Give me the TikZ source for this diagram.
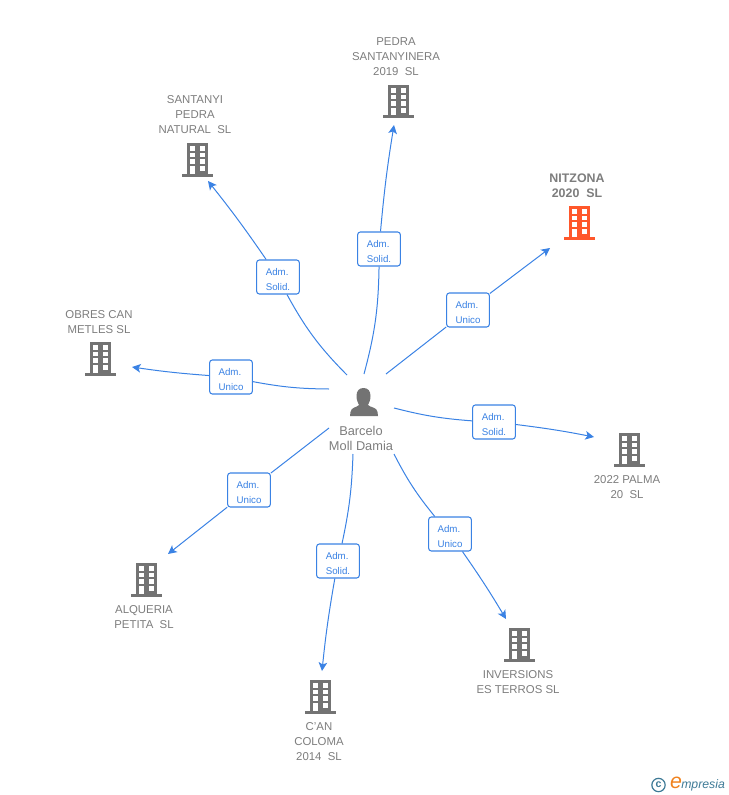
\documentclass[tikz,border=0pt]{standalone}
\usepackage{fontspec}
\usepackage{xcolor}
\setmainfont{Liberation Sans}
\usetikzlibrary{shapes,arrows,arrows.meta,positioning,calc}
\definecolor{linkblue}{RGB}{58,130,228}
\definecolor{iconorange}{RGB}{255,87,43}
\definecolor{icongray}{RGB}{115,115,115}
\definecolor{labelgray}{RGB}{125,125,125}
\definecolor{logoblue}{RGB}{62,122,150}
\definecolor{logoorange}{RGB}{240,130,30}
\newcommand{\admrole}[1]{\rule{0pt}{8.5pt}Adm.\\#1}

\tikzset{
    badge/.style={draw=linkblue, line width=0.8pt, rounded corners=2pt, fill=white, text=linkblue,
        minimum width=32pt, minimum height=25.5pt, inner sep=0pt, align=left,
        font=\fontsize{7.3}{11.25}\selectfont},
    conn/.style={draw=linkblue, line width=0.75pt},
    arrow/.style={conn, -{Stealth[length=6.5pt,width=6.5pt,inset=1.6pt]}},
    firm/.style={text=labelgray, align=center, inner sep=0pt, font=\fontsize{8.55}{11.25}\selectfont},
    spot/.style={minimum width=24pt, minimum height=25pt, inner sep=0pt},
    pics/building/.style={code={
        \fill[#1] (-10.5,-17) rectangle (10.5,16.5);
        \fill[#1] (-15.5,13.5) rectangle (15.5,16.5);
        \foreach \wx in {-4.5,5.2} \foreach \wy in {-11.7,-5,1.7} {
            \fill[white] (\wx-2.6,\wy-2.3) rectangle (\wx+2.6,\wy+2.3);
        }
        \fill[white] (-7.1,6.3) rectangle (-1.9,13.5);
        \fill[white] (2.6,6.3) rectangle (7.8,10.6);
    }}
}

\begin{document}
\begin{tikzpicture}[x=0.75pt, y=-0.75pt]
    \useasboundingbox (0,0) rectangle (728,795);

    % company icons
    \node[spot] (pedra) at (398,102) {};
    \node[spot] (santanyi) at (197,160) {};
    \node[spot] (nitzona) at (579,223) {};
    \node[spot] (obres) at (100,359) {};
    \node[spot] (palma) at (629,450) {};
    \node[spot] (terros) at (519,645) {};
    \node[spot] (coloma) at (320,697) {};
    \node[spot] (alqueria) at (146,580) {};
    \pic at (pedra) {building=icongray};
    \pic at (santanyi) {building=icongray};
    \pic at (nitzona) {building=iconorange};
    \pic at (obres) {building=icongray};
    \pic at (palma) {building=icongray};
    \pic at (terros) {building=icongray};
    \pic at (coloma) {building=icongray};
    \pic at (alqueria) {building=icongray};

    % company names
    \node[firm] (pedraname) at (396,57) {PEDRA\\SANTANYINERA\\2019\ \ SL};
    \node[firm] (santanyiname) at (195,115) {SANTANYI\\PEDRA\\NATURAL\ \ SL};
    \node[firm, font=\fontsize{9.3}{11.25}\selectfont\bfseries] (nitzonaname) at (577,185.5) {NITZONA\\2020\ \ SL};
    \node[firm] (obresname) at (99,322.5) {OBRES CAN\\METLES SL};
    \node[firm] (palmaname) at (627,487.5) {2022 PALMA\\20\ \ SL};
    \node[firm] (terrosname) at (518,682.5) {INVERSIONS\\ES TERROS SL};
    \node[firm] (colomaname) at (319,742) {C'AN\\COLOMA\\2014\ \ SL};
    \node[firm] (alqueriname) at (144,617.5) {ALQUERIA\\PETITA\ \ SL};

    % person
    \node[minimum width=24pt, minimum height=24pt, inner sep=0pt] (damia) at (364,402) {};
    \fill[icongray] (363.5,388) .. controls (368,388) and (370.5,391) .. (370.5,396)
        .. controls (370.5,400) and (369,403) .. (368,405)
        .. controls (370,407.5) and (377,407) .. (377.5,412) -- (378,416) -- (350,416) -- (350.5,412)
        .. controls (351,407) and (357,407.5) .. (359,405)
        .. controls (358,403) and (356.5,400) .. (356.5,396)
        .. controls (356.5,391) and (359,388) .. (363.5,388) -- cycle;
    \node[firm, font=\fontsize{9.6}{11.25}\selectfont] (damianame) at (361,438.5) {Barcelo\\Moll Damia};

    % badges
    \node[badge] (b1) at (379,249) {\admrole{Solid.}};
    \node[badge] (b2) at (278,277) {\admrole{Solid.}};
    \node[badge] (b3) at (468,310) {\admrole{Unico}};
    \node[badge] (b4) at (231,377) {\admrole{Unico}};
    \node[badge] (b5) at (494,422) {\admrole{Solid.}};
    \node[badge] (b6) at (450,534) {\admrole{Unico}};
    \node[badge] (b7) at (338,561) {\admrole{Solid.}};
    \node[badge] (b8) at (249,490) {\admrole{Unico}};

    % free ends of the links
    \coordinate (s1) at (364,374);
    \coordinate (s2) at (347,375);
    \coordinate (s3) at (386,374);
    \coordinate (s4) at (329,389);
    \coordinate (s5) at (394,408);
    \coordinate (s6) at (394,454);
    \coordinate (s7) at (353,454);
    \coordinate (s8) at (329,428);
    \coordinate (e1) at (394,125);
    \coordinate (e2) at (208,181);
    \coordinate (e3) at (550,248);
    \coordinate (e4) at (132,367);
    \coordinate (e5) at (594,437);
    \coordinate (e6) at (506,619);
    \coordinate (e7) at (322,671);
    \coordinate (e8) at (168,554);

    % links
    \draw[conn] (s1) to[bend right=7] (b1);
    \draw[arrow] (b1) to[bend left=2] (e1);
    \draw[conn] (s2) to[bend left=8] (b2);
    \draw[arrow] (b2) to[bend right=2] (e2);
    \draw[conn] (s3) -- (b3);
    \draw[arrow] (b3) -- (e3);
    \draw[conn] (s4) to[bend left=5] (b4);
    \draw[arrow] (b4) to[bend left=2] (e4);
    \draw[conn] (s5) to[bend right=5] (b5);
    \draw[arrow] (b5) to[bend left=2] (e5);
    \draw[conn] (s6) to[bend right=6] (b6);
    \draw[arrow] (b6) to[bend left=2] (e6);
    \draw[conn] (s7) to[bend left=5] (b7);
    \draw[arrow] (b7) to[bend right=2] (e7);
    \draw[conn] (s8) -- (b8);
    \draw[arrow] (b8) -- (e8);

    % logo
    \node[draw=logoblue, line width=0.9pt, circle, inner sep=0pt, minimum size=10pt, text=logoblue,
        font=\fontsize{8}{8}\selectfont\bfseries] (logomark) at (658.5,785) {c};
    \node[text=logoorange, inner sep=0pt, font=\fontsize{16}{16}\selectfont\itshape] (logoe) at (676,783) {e};
    \node[text=logoblue, inner sep=0pt, anchor=west, font=\fontsize{9.2}{10}\selectfont\itshape] (logotext) at (681,785) {mpresia};
\end{tikzpicture}
\end{document}
